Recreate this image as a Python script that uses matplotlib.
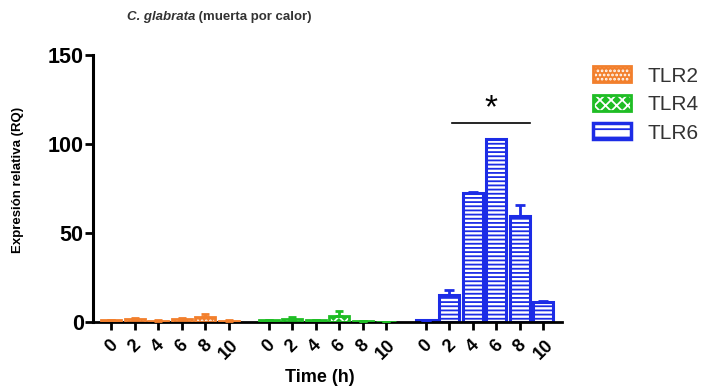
import matplotlib
matplotlib.use("Agg")
import matplotlib.pyplot as plt
from matplotlib.patches import Patch
import numpy as np

plt.rcParams['font.family'] = ['Liberation Sans', 'DejaVu Sans']
plt.rcParams['hatch.linewidth'] = 1.3

# Data
times = ["0", "2", "4", "6", "8", "10"]
receptors = ["TLR2", "TLR4", "TLR6"]
tlr2_mean = [0.9, 1.6, 0.7, 1.5, 2.8, 0.6]
tlr2_err = [0.3, 0.5, 0.2, 0.5, 1.8, 0.2]
tlr4_mean = [0.9, 1.8, 0.8, 3.2, 0.3, 0.05]
tlr4_err = [0.2, 0.8, 0.2, 2.8, 0.1, 0.0]
tlr6_mean = [1.0, 15.0, 72.5, 102.5, 59.5, 11.0]
tlr6_err = [0.2, 3.0, 0.5, 0.5, 6.0, 0.5]
y_ticks = [0, 50, 100, 150]

orange = '#F27F2C'
green = '#1FBD25'
blue = '#1C2CE6'

fig = plt.figure(figsize=(7.08, 3.90), dpi=100)
ax = fig.add_axes([0.132, 0.175, 0.662, 0.684])

group_stride = 6.7
width = 0.85
n = len(times)
pos = [np.arange(n) + g * group_stride for g in range(3)]

# TLR2 and TLR4: solid colour with white hatch, coloured outline
for x, m, e, c, h in [(pos[0], tlr2_mean, tlr2_err, orange, '....'),
                      (pos[1], tlr4_mean, tlr4_err, green, 'xxx')]:
    ax.bar(x, m, width, color=c, edgecolor='white', hatch=h, linewidth=0, zorder=2)
    ax.bar(x, m, width, fill=False, edgecolor=c, linewidth=2.0, zorder=3)
    ax.errorbar(x, m, yerr=[np.zeros(n), e], fmt='none', ecolor=c,
                elinewidth=2, capsize=3, capthick=2, zorder=3)

# TLR6: white bars with horizontal blue stripes
ax.bar(pos[2], tlr6_mean, width, facecolor='white', edgecolor=blue,
       hatch='----', linewidth=2.2, zorder=2)
ax.errorbar(pos[2], tlr6_mean, yerr=[np.zeros(n), tlr6_err], fmt='none',
            ecolor=blue, elinewidth=2, capsize=3.5, capthick=2, zorder=3)

# Significance marker over TLR6 2-8 h
ax.plot([pos[2][1] + 0.1, pos[2][4] + 0.45], [112, 112], color='black', lw=1.2)
ax.text(pos[2][3] - 0.25, 120, '*', ha='center', va='center', fontsize=24)

# Axes styling
ax.set_xlim(-0.76, pos[2][-1] + 0.8)
ax.set_ylim(0, 150)
ax.set_yticks(y_ticks)
ax.set_yticklabels([str(v) for v in y_ticks], fontsize=15.5, fontweight='bold')
ax.set_xticks(np.concatenate(pos))
ax.set_xticklabels(times * 3, rotation=45, ha='center', fontsize=13,
                   fontweight='bold')
for s in ['top', 'right']:
    ax.spines[s].set_visible(False)
ax.spines['left'].set_linewidth(2.2)
ax.spines['bottom'].set_linewidth(2.0)
ax.tick_params(axis='y', length=6, width=2, pad=1)
ax.tick_params(axis='x', length=6, width=2, pad=5)

# Labels
fig.text(18 / 708, 1 - 180 / 390, 'Expresión relativa (RQ)', rotation=90,
         ha='center', va='center', fontsize=9.5, fontweight='bold')
fig.text(320 / 708, 1 - 377 / 390, 'Time (h)', ha='center', va='center',
         fontsize=13, fontweight='bold')
t1 = fig.text(127 / 708, 1 - 17 / 390, 'C. glabrata', style='italic',
              fontweight='bold', fontsize=9.5, color='#333333', va='center')
ax.annotate(' (muerta por calor)', xy=(1, 0.5), xycoords=t1, va='center',
            fontsize=9.5, fontweight='bold', color='#333333')

# Legend
handles = [
    (Patch(facecolor=orange, edgecolor='white', hatch='....', linewidth=0),
     Patch(fill=False, edgecolor=orange, linewidth=2)),
    (Patch(facecolor=green, edgecolor='white', hatch='xxx', linewidth=0),
     Patch(fill=False, edgecolor=green, linewidth=2)),
    Patch(facecolor='white', edgecolor=blue, hatch='--', linewidth=2.5),
]
leg = fig.legend(handles, receptors, loc='upper left',
                 bbox_to_anchor=(585 / 708, 1 - 58 / 390), frameon=False,
                 fontsize=15, handlelength=1.8, handleheight=0.8,
                 handletextpad=0.8, labelspacing=0.45, borderaxespad=0)
for t in leg.get_texts():
    t.set_color('#333333')

fig.savefig('out.png', dpi=100)
